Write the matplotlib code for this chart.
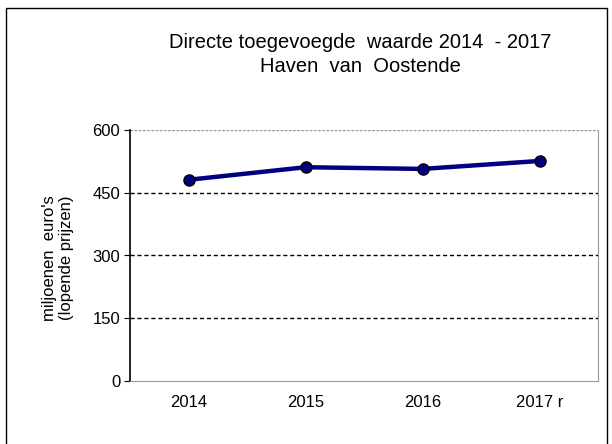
import matplotlib.pyplot as plt
from matplotlib.patches import Rectangle

plt.rcParams['font.family'] = ['Liberation Sans', 'DejaVu Sans']

jaren = ['2014', '2015', '2016', '2017 r']
waarde = [481, 511, 507, 526]
yticks = [0, 150, 300, 450, 600]

fig = plt.figure(figsize=(6.12, 4.44), dpi=100)
# kader rond de grafiek
fig.patches.append(Rectangle((6 / 612, -0.01), 601 / 612, 1 - 8 / 444 + 0.01,
                             transform=fig.transFigure, fill=False,
                             edgecolor='black', linewidth=1))

ax = fig.add_axes([130 / 612, 1 - 381 / 444, 468 / 612, 251 / 444])
x = list(range(len(jaren)))
ax.plot(x, waarde, color='#000080', linewidth=3.2, marker='o', markersize=8,
        markerfacecolor='#000080', markeredgecolor='black', markeredgewidth=1,
        zorder=5, clip_on=False)

ax.set_xlim(-0.5, len(jaren) - 0.5)
ax.set_ylim(0, 600)
ax.set_yticks(yticks)
ax.set_yticklabels([str(v) for v in yticks], fontsize=12)
ax.set_xticks(x)
ax.set_xticklabels(jaren, fontsize=12)
ax.tick_params(axis='x', length=0, pad=10)
ax.tick_params(axis='y', length=4, direction='out', pad=3)

for v in [150, 300, 450]:
    ax.axhline(v, color='black', linewidth=1, linestyle=(0, (3, 2)), zorder=1)
ax.axhline(600, color='#999999', linewidth=1, linestyle=(0, (2, 1)), zorder=1)

for s in ['top', 'right', 'bottom']:
    ax.spines[s].set_color('#999999')
ax.spines['top'].set_visible(False)
ax.spines['bottom'].set_linestyle((0, (2, 1)))
ax.spines['left'].set_color('black')
ax.spines['left'].set_linewidth(1.2)

ax.set_ylabel("miljoenen  euro's\n(lopende prijzen)", fontsize=12, labelpad=18,
              linespacing=1.15)
ax.yaxis.set_label_coords(-56 / 468, 0.49)

fig.text(360 / 612, 1 - 42 / 444, 'Directe toegevoegde  waarde 2014  - 2017',
         ha='center', va='center', fontsize=14.5)
fig.text(360 / 612, 1 - 67 / 444, 'Haven  van  Oostende',
         ha='center', va='center', fontsize=14.5)

fig.savefig('out.png', dpi=100)
